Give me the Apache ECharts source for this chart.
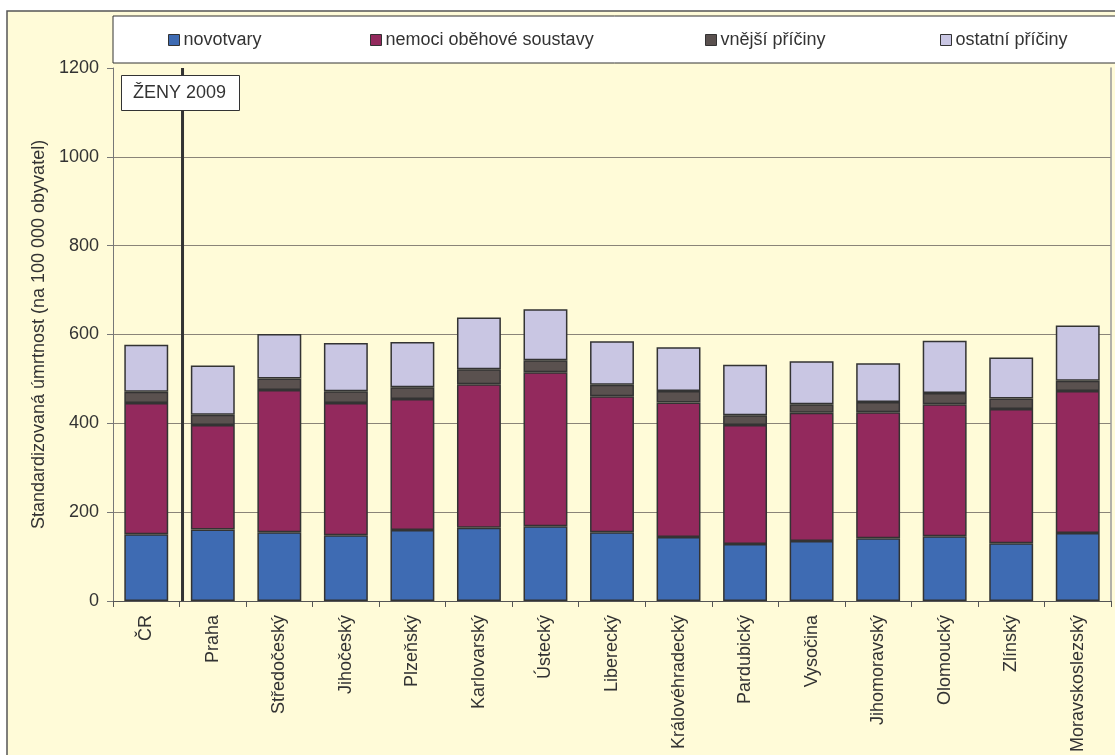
<!DOCTYPE html>
<html>
<head>
<meta charset="utf-8">
<script src="https://cdn.jsdelivr.net/npm/echarts@6/dist/echarts.min.js"></script>
<style>
  html, body { margin: 0; padding: 0; background: #ffffff; }
  #chart { width: 1115px; height: 755px; }
</style>
</head>
<body>
<div id="chart"></div>
<script>
// Kraje (regions) and the national total
const regions = ['ČR', 'Praha', 'Středočeský', 'Jihočeský', 'Plzeňský', 'Karlovarský', 'Ústecký',
  'Liberecký', 'Královéhradecký', 'Pardubický', 'Vysočina', 'Jihomoravský', 'Olomoucký',
  'Zlínský', 'Moravskoslezský'];

// Standardised mortality per 100 000 inhabitants, women 2009, by cause group
const novotvary = [150, 161, 155, 148, 160, 165, 168, 155, 144, 128, 135, 141, 146, 130, 153];
const obehova   = [296, 235, 320, 298, 295, 323, 347, 306, 303, 268, 289, 284, 297, 302, 320];
const vnejsi    = [25, 23, 26, 26, 26, 34, 27, 26, 26, 22, 19, 23, 25, 24, 23];
const ostatni   = [106, 111, 100, 109, 102, 116, 115, 98, 98, 114, 97, 87, 118, 92, 124];

const seriesNames = ['novotvary', 'nemoci oběhové soustavy', 'vnější příčiny', 'ostatní příčiny'];
const seriesColors = ['#3E6BB3', '#93295D', '#5A514F', '#C9C6E3'];

// Position (in category units) of the separator between the total and the regions
const separatorX = 0.545;

const FONT = 'Liberation Sans, Arial, sans-serif';
const BG = '#FFFBD8';
const GRID_LINE = '#8a8478';

const chart = echarts.init(document.getElementById('chart'));

const values = [novotvary, obehova, vnejsi, ostatni];
const legendLefts = [168, 370, 705, 940];

const option = {
  backgroundColor: '#ffffff',
  animation: false,
  textStyle: { fontFamily: FONT },
  graphic: [
    {
      type: 'rect', z: -10, silent: true,
      shape: { x: 7, y: 11, width: 1200, height: 800 },
      style: { fill: BG, stroke: '#555', lineWidth: 1.5 }
    },
    {
      type: 'rect', z: 5, silent: true,
      shape: { x: 113, y: 16, width: 1100, height: 47 },
      style: { fill: '#ffffff', stroke: '#333', lineWidth: 1 }
    }
  ],
  title: {
    text: 'ŽENY 2009',
    left: 121, top: 75,
    padding: [9, 14, 9, 12],
    backgroundColor: '#ffffff',
    borderColor: '#333',
    borderWidth: 1,
    textStyle: { fontFamily: FONT, fontSize: 18, fontWeight: 'normal', color: '#333' }
  },
  legend: seriesNames.map((n, i) => ({
    data: [n],
    left: legendLefts[i],
    top: 31,
    padding: 0,
    z: 10,
    itemWidth: 11,
    itemHeight: 11,
    itemGap: 5,
    icon: 'rect',
    selectedMode: false,
    textStyle: { fontFamily: FONT, fontSize: 18, color: '#333', padding: [0, 0, 0, -1] },
    itemStyle: { borderColor: '#333', borderWidth: 1 }
  })),
  grid: { left: 113, right: 4, top: 68, bottom: 151, containLabel: false },
  xAxis: [
    {
      type: 'category',
      data: regions,
      axisLine: { lineStyle: { color: '#555', width: 1 } },
      axisTick: { show: true, length: 6, alignWithLabel: false, lineStyle: { color: '#555' } },
      axisLabel: { rotate: 90, margin: 14, fontSize: 18, color: '#333', fontFamily: FONT, interval: 0 }
    },
    {
      type: 'value', min: -0.5, max: 14.5, show: false
    }
  ],
  yAxis: [
    {
      type: 'value',
      min: 0, max: 1200, interval: 200,
      name: 'Standardizovaná úmrtnost (na 100 000 obyvatel)',
      nameLocation: 'middle',
      nameGap: 56,
      nameTextStyle: { fontFamily: FONT, fontSize: 18, color: '#333' },
      axisLine: { show: true, onZero: false, lineStyle: { color: '#777', width: 1 } },
      axisTick: { show: true, length: 6, lineStyle: { color: '#777' } },
      axisLabel: { margin: 14, fontSize: 18, color: '#333', fontFamily: FONT, formatter: v => String(v) },
      splitLine: { show: true, lineStyle: { color: [GRID_LINE, GRID_LINE, GRID_LINE, GRID_LINE, GRID_LINE, GRID_LINE, 'rgba(0,0,0,0)'], width: 1 } }
    },
    {
      type: 'value', position: 'right', min: 0, max: 1200, interval: 200,
      axisLine: { show: true, onZero: false, lineStyle: { color: '#999', width: 1.5 } },
      axisTick: { show: false }, axisLabel: { show: false }, splitLine: { show: false }
    }
  ],
  series: seriesNames.map((n, i) => ({
    name: n,
    type: 'bar',
    stack: 'total',
    barCategoryGap: '34%',
    data: values[i],
    itemStyle: { color: seriesColors[i], borderColor: '#333', borderWidth: 1.5 }
  })).concat([{
    name: 'separator',
    type: 'line',
    xAxisIndex: 1,
    yAxisIndex: 0,
    symbol: 'none',
    z: 4,
    data: [[separatorX, 0], [separatorX, 1200]],
    lineStyle: { color: '#333', width: 3 }
  }])
};

chart.setOption(option);
</script>
</body>
</html>
